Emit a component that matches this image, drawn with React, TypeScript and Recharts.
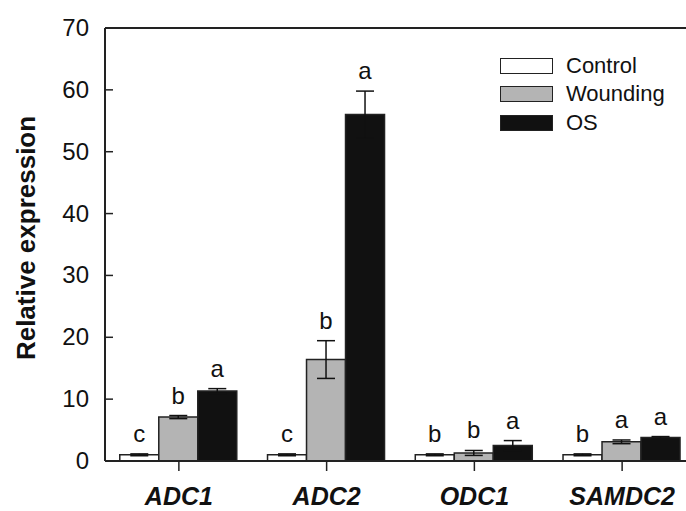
import { Bar, BarChart, ErrorBar, ReferenceLine, XAxis, YAxis } from 'recharts';

// Relative expression of polyamine genes after Control / Wounding / OS treatment.
const CATEGORIES = ['ADC1', 'ADC2', 'ODC1', 'SAMDC2'];
const CONTROL = [1.0, 1.0, 1.0, 1.0];
const CONTROL_ERR = [0.15, 0.15, 0.15, 0.15];
const WOUNDING = [7.1, 16.4, 1.3, 3.1];
const WOUNDING_ERR = [0.25, 3.05, 0.4, 0.3];
const OS = [11.3, 56.0, 2.5, 3.8];
const OS_ERR = [0.4, 3.8, 0.8, 0.15];
const CONTROL_LETTERS = ['c', 'c', 'b', 'b'];
const WOUNDING_LETTERS = ['b', 'b', 'b', 'a'];
const OS_LETTERS = ['a', 'a', 'a', 'a'];
const Y_TICKS = [0, 10, 20, 30, 40, 50, 60, 70];

const FONT = '"Liberation Sans", Arial, sans-serif';
const AXIS = '#222';

const SERIES = [
  { key: 'Control', err: 'controlErr', fill: '#ffffff', letters: CONTROL_LETTERS, errs: CONTROL_ERR },
  { key: 'Wounding', err: 'woundingErr', fill: '#b4b4b4', letters: WOUNDING_LETTERS, errs: WOUNDING_ERR },
  { key: 'OS', err: 'osErr', fill: '#111111', letters: OS_LETTERS, errs: OS_ERR },
];

const data = CATEGORIES.map((c, i) => ({
  name: c,
  Control: CONTROL[i],
  controlErr: CONTROL_ERR[i],
  Wounding: WOUNDING[i],
  woundingErr: WOUNDING_ERR[i],
  OS: OS[i],
  osErr: OS_ERR[i],
}));

const Y_TICK_SIZE = 8;
const Y_TICK_MARGIN = 8;
const X_TICK_SIZE = 10;
const X_TICK_MARGIN = 4;

// ticks point into the plot on the y axis
function YTick(props: any) {
  const { x, y, payload } = props;
  const axisX = x + Y_TICK_SIZE + Y_TICK_MARGIN;
  return (
    <g>
      {payload.value !== 0 && payload.value !== 70 && (
        <line x1={axisX} x2={axisX + 8} y1={y} y2={y} stroke={AXIS} strokeWidth={1.5} />
      )}
      <text x={x} y={y} dy={8} textAnchor="end" fontSize={24} fontFamily={FONT} fill="#111">
        {payload.value}
      </text>
    </g>
  );
}

function XTick(props: any) {
  const { x, y, payload } = props;
  const axisY = y - X_TICK_SIZE - X_TICK_MARGIN;
  return (
    <g>
      <line x1={x} x2={x} y1={axisY} y2={axisY + X_TICK_SIZE} stroke={AXIS} strokeWidth={1.5} />
      <text x={x} y={axisY + 44} textAnchor="middle" fontSize={25} fontWeight="bold" fontStyle="italic" fontFamily={FONT} fill="#111">
        {payload.value}
      </text>
    </g>
  );
}

function letterLabel(letters: string[], errs: number[]) {
  return (p: any) => {
    const { x, y, width, height, value, index } = p;
    const pxPerUnit = value ? Number(height) / Number(value) : 0;
    const top = Number(y) - errs[index] * pxPerUnit;
    return (
      <text x={Number(x) + Number(width) / 2} y={top - 12} textAnchor="middle" fontSize={24} fontFamily={FONT} fill="#111">
        {letters[index]}
      </text>
    );
  };
}

function LegendBox() {
  return (
    <div style={{ position: 'absolute', left: 500, top: 52, fontFamily: FONT, fontSize: 22, color: '#111' }}>
      {SERIES.map((s) => (
        <div key={s.key} style={{ display: 'flex', alignItems: 'center', height: 28.3, lineHeight: '28px' }}>
          <span style={{ display: 'inline-block', width: 51, height: 14, background: s.fill, border: `1.5px solid ${AXIS}`, marginRight: 13 }} />
          {s.key}
        </div>
      ))}
    </div>
  );
}

export default function App() {
  return (
    <div style={{ position: 'absolute', left: 0, top: 0, width: 686, height: 511, overflow: 'hidden', background: '#fff' }}>
      <BarChart width={700} height={511} data={data} margin={{ top: 28, right: 4, left: 0, bottom: 0 }} barCategoryGap="10%" barGap={0}>
        <XAxis
          dataKey="name"
          height={50}
          tickSize={X_TICK_SIZE}
          tickMargin={X_TICK_MARGIN}
          tickLine={false}
          axisLine={{ stroke: AXIS, strokeWidth: 2 }}
          tick={<XTick />}
          interval={0}
        />
        <YAxis
          width={105}
          domain={[0, 70]}
          ticks={Y_TICKS}
          tickSize={Y_TICK_SIZE}
          tickMargin={Y_TICK_MARGIN}
          tickLine={false}
          axisLine={{ stroke: AXIS, strokeWidth: 2 }}
          tick={<YTick />}
          label={{
            content: () => (
              <text x={35} y={238} transform="rotate(-90, 35, 238)" textAnchor="middle" fontSize={26} fontWeight="bold" fontFamily={FONT} fill="#111">
                Relative expression
              </text>
            ),
          }}
        />
        <ReferenceLine y={70} stroke={AXIS} strokeWidth={2} />
        {SERIES.map((s) => (
          <Bar
            key={s.key}
            dataKey={s.key}
            fill={s.fill}
            stroke={AXIS}
            strokeWidth={1.5}
            isAnimationActive={false}
            label={letterLabel(s.letters, s.errs)}
          >
            <ErrorBar dataKey={s.err} width={9} stroke="#111" strokeWidth={1.5} isAnimationActive={false} />
          </Bar>
        ))}
      </BarChart>
      <LegendBox />
    </div>
  );
}
